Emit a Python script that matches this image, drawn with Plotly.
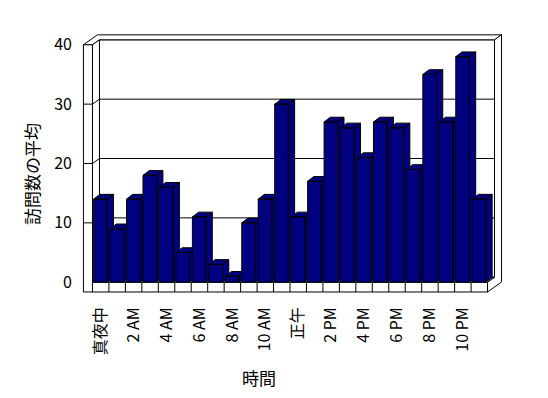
import plotly.graph_objects as go

# ---- data ----
hours = ["真夜中"] + [f"{h} AM" for h in range(1, 12)] + ["正午"] + [f"{h} PM" for h in range(1, 12)]
visits = [14, 9, 14, 18, 16, 5, 11, 3, 1, 10, 14, 30, 11, 17, 27, 26, 21, 27, 26, 19, 35, 27, 38, 14]
y_ticks = [0, 10, 20, 30, 40]
x_title = "時間"
y_title = "訪問数の平均"

# ---- 3D geometry (data units) ----
N = len(visits)
YMAX = 40
DDX, DDY = 0.425, 0.84      # depth of the room
BDX, BDY = 0.38, 0.80       # depth of a bar
FLOOR = -1.65               # floor slab thickness
WALL = -0.55                # left wall front-face outer x
A, B = 0.07, 0.90           # bar front face within its cell
NAVY = "#000080"
FONT = "Noto Sans CJK JP"

fig = go.Figure()


def add_poly(polys, fill, line_w=1):
    xs, ys = [], []
    for p in polys:
        for (x, y) in p:
            xs.append(x)
            ys.append(y)
        xs.append(p[0][0])
        ys.append(p[0][1])
        xs.append(None)
        ys.append(None)
    fig.add_trace(go.Scatter(x=xs, y=ys, mode="lines", fill="toself", fillcolor=fill,
                             line=dict(color="black", width=line_w), hoverinfo="skip",
                             showlegend=False))


def add_lines(segs):
    xs, ys = [], []
    for (x0, y0), (x1, y1) in segs:
        xs += [x0, x1, None]
        ys += [y0, y1, None]
    fig.add_trace(go.Scatter(x=xs, y=ys, mode="lines", line=dict(color="black", width=1),
                             hoverinfo="skip", showlegend=False))


# back wall front face
add_poly([[(DDX, DDY), (N + DDX, DDY), (N + DDX, YMAX + DDY), (DDX, YMAX + DDY)]], "white")
# combined top face of left + back wall
add_poly([[(WALL, YMAX), (0, YMAX), (DDX, YMAX + DDY), (N + DDX, YMAX + DDY),
           (N + 2 * DDX, YMAX + 2 * DDY), (WALL + 2 * DDX, YMAX + 2 * DDY)]], "white")
# combined right face (floor + back wall)
add_poly([[(N, 0), (N + DDX, DDY), (N + DDX, YMAX + DDY), (N + 2 * DDX, YMAX + 2 * DDY),
           (N + 2 * DDX, FLOOR + 2 * DDY), (N, FLOOR)]], "white")
# left wall inner face
add_poly([[(0, 0), (DDX, DDY), (DDX, YMAX + DDY), (0, YMAX)]], "white")
# floor top
add_poly([[(0, 0), (N, 0), (N + DDX, DDY), (DDX, DDY)]], "white")
# front faces (left wall + floor)
add_poly([[(WALL, FLOOR), (N, FLOOR), (N, 0), (0, 0), (0, YMAX), (WALL, YMAX)]], "white")

# gridlines and floor cell lines
segs = []
for v in y_ticks[1:-1]:
    segs.append(((DDX, v + DDY), (N + DDX, v + DDY)))
    segs.append(((0, v), (DDX, v + DDY)))
    segs.append(((WALL, v), (0, v)))
for i in range(0, N):
    segs.append(((i, FLOOR), (i, 0)))
add_lines(segs)

# bars
for i, v in enumerate(visits):
    x0, x1 = i + A, i + B
    front = [(x0, 0), (x1, 0), (x1, v), (x0, v)]
    top = [(x0, v), (x1, v), (x1 + BDX, v + BDY), (x0 + BDX, v + BDY)]
    side = [(x1, 0), (x1 + BDX, BDY), (x1 + BDX, v + BDY), (x1, v)]
    add_poly([side, top, front], NAVY)

# ---- layout ----
OFF = 8                      # page body margin
W, H = 548 - OFF, 398 - OFF
L, R, T, Bm = 76 - OFF, 44, 27 - OFF, 98
pw, ph = W - L - R, H - T - Bm


def px_x(p):
    return (p - OFF - L) / pw


def px_y(p):
    return 1 - (p - OFF - T) / ph


fig.update_layout(
    width=W, height=H,
    margin=dict(l=L, r=R, t=T, b=Bm, pad=0, autoexpand=False),
    paper_bgcolor="white", plot_bgcolor="white",
    font=dict(family=FONT, size=16, color="black"),
    showlegend=False,
    xaxis=dict(range=[-1, 25], showgrid=False, zeroline=False, showline=False,
               automargin=False, tickmode="array",
               tickvals=[i + 0.5 for i in range(0, N, 2)],
               ticktext=[hours[i] for i in range(0, N, 2)],
               tickangle=-90, ticks="", ticklabelstandoff=3,
               tickfont=dict(family=FONT, size=16, color="black"), fixedrange=True),
    yaxis=dict(range=[-3, 43], showgrid=False, zeroline=False, showline=False,
               automargin=False, tickmode="array", tickvals=y_ticks, ticks="",
               ticklabelstandoff=3,
               tickfont=dict(family=FONT, size=16, color="black"), fixedrange=True),
    annotations=[
        dict(text=x_title, xref="paper", yref="paper",
             x=px_x(259), y=px_y(377), xanchor="center", yanchor="middle",
             showarrow=False, font=dict(family=FONT, size=17, color="black")),
        dict(text=y_title, xref="paper", yref="paper", textangle=-90,
             x=px_x(31), y=px_y(174), xanchor="center", yanchor="middle",
             showarrow=False, font=dict(family=FONT, size=17, color="black")),
    ],
)

fig.write_html("out.html")
